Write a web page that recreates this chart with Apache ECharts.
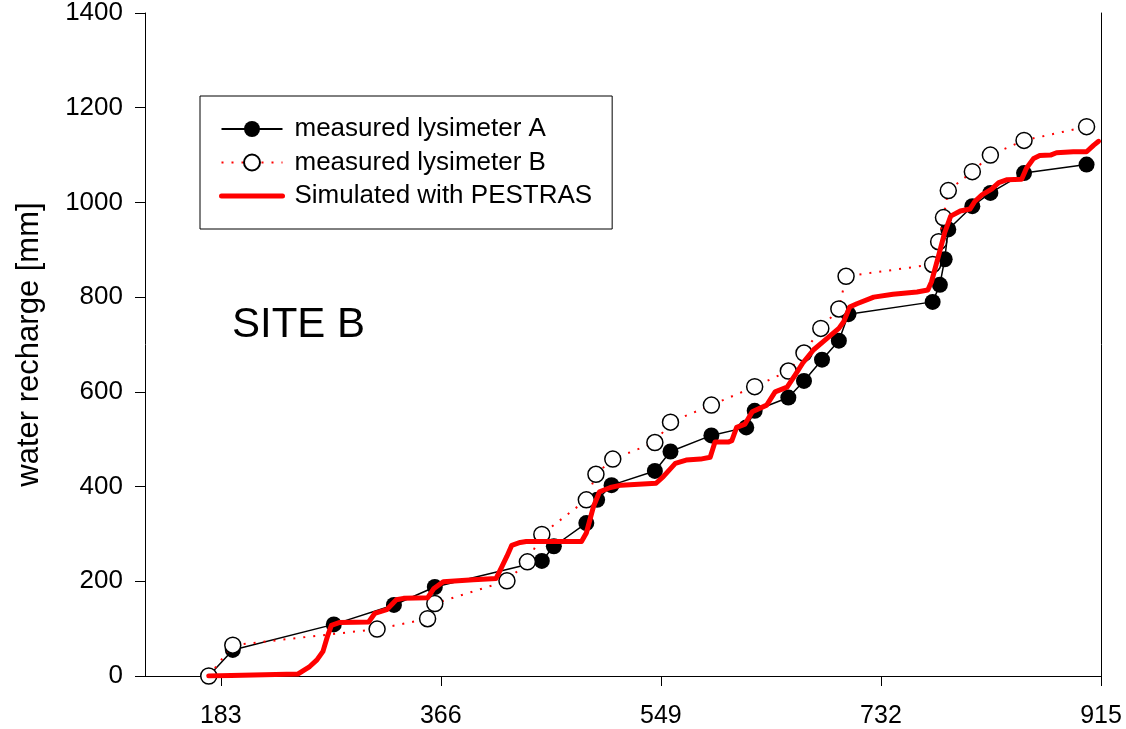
<!DOCTYPE html>
<html>
<head>
<meta charset="utf-8">
<script src="https://cdn.jsdelivr.net/npm/echarts@6/dist/echarts.min.js"></script>
<style>
html, body { margin: 0; padding: 0; background: #fff; }
#chart { width: 1126px; height: 729px; }
</style>
</head>
<body>
<div id="chart"></div>
<script>
// tick labels
const dayTicks = [183, 366, 549, 732, 915];

// measured lysimeter A (day, mm)
const lysADays = [173, 193, 277, 327, 361, 450, 460, 487, 496, 508, 544, 557, 591, 620, 627, 655, 668, 683, 697, 705, 775, 781, 785, 788, 808, 823, 851, 903];
const lysAVals = [0, 55, 109, 150, 188, 243, 274, 323, 372, 403, 433, 474, 508, 525, 560, 588, 623, 668, 708, 764, 790, 826, 880, 943, 992, 1020, 1062, 1080];

// measured lysimeter B
const lysBDays = [173, 193, 313, 355, 361, 421, 438, 450, 487, 495, 509, 544, 557, 591, 627, 655, 668, 682, 697, 703, 775, 780, 784, 788, 808, 823, 851, 903];
const lysBVals = [0, 65, 99, 121, 153, 201, 241, 299, 372, 426, 458, 493, 536, 572, 611, 644, 682, 734, 775, 844, 869, 917, 968, 1025, 1065, 1100, 1131, 1160];

// simulated with PESTRAS
const simDays = [173, 247, 257, 263, 268, 272, 275, 282, 306, 311, 321, 329, 335, 355, 360, 368, 393, 412, 417, 421, 425, 432, 437, 465, 483, 487, 493, 498, 507, 516, 545, 551, 561, 570, 582, 590, 594, 605, 608, 612, 619, 625, 637, 644, 654, 661, 667, 676, 684, 697, 701, 706, 712, 726, 742, 762, 771, 774, 780, 785, 790, 798, 806, 810, 816, 824, 830, 837, 849, 853, 859, 864, 873, 878, 892, 903, 909, 913];
const simVals = [0, 4, 20, 34, 52, 86, 107, 113, 114, 132, 140, 161, 164, 165, 184, 199, 203, 206, 232, 253, 276, 282, 284, 284, 284, 302, 358, 389, 398, 403, 407, 421, 449, 456, 458, 462, 494, 494, 497, 525, 532, 558, 572, 600, 610, 637, 661, 689, 706, 734, 748, 779, 786, 800, 806, 811, 815, 832, 888, 936, 971, 982, 986, 1002, 1016, 1028, 1042, 1048, 1049, 1072, 1093, 1099, 1100, 1105, 1107, 1107, 1121, 1129];

const zip = (xs, ys) => xs.map((x, i) => [x, ys[i]]);
const font = 'Liberation Sans, Arial, sans-serif';

const chart = echarts.init(document.getElementById('chart'));
chart.setOption({
    animation: false,
    backgroundColor: '#fff',
    title: {
        text: 'SITE B',
        left: 232,
        top: 304,
        padding: 0,
        textStyle: { fontFamily: font, fontSize: 42, fontWeight: 'normal', color: '#000' }
    },
    legend: {
        orient: 'vertical',
        left: 200,
        top: 96,
        itemWidth: 61,
        itemHeight: 20,
        itemGap: 7.5,
        padding: [20, 20, 20, 19],
        borderColor: '#000',
        borderWidth: 1,
        textStyle: { fontFamily: font, fontSize: 26, color: '#000', padding: [0, 0, 0, 7] },
        data: [
            'measured lysimeter A',
            'measured lysimeter B',
            {
                name: 'Simulated with PESTRAS',
                itemStyle: { color: 'rgba(0,0,0,0)', borderWidth: 0 },
                lineStyle: { color: '#ff0000', width: 5 }
            }
        ]
    },
    grid: { left: 145, right: 25, top: 8, bottom: 51 },
    xAxis: {
        type: 'value',
        min: 120,
        max: 915,
        splitLine: { show: false },
        axisLine: { lineStyle: { color: '#000', width: 1 } },
        axisTick: { customValues: dayTicks, length: 10, lineStyle: { color: '#000' } },
        axisLabel: { customValues: dayTicks, margin: 28, fontFamily: font, fontSize: 25, color: '#000' }
    },
    yAxis: [{
        type: 'value',
        min: 0,
        max: 1400,
        interval: 200,
        name: 'water recharge [mm]',
        nameLocation: 'middle',
        nameGap: 100,
        nameTextStyle: { fontFamily: font, fontSize: 31, color: '#000' },
        splitLine: { show: false },
        axisLine: { show: true, lineStyle: { color: '#000', width: 1 } },
        axisTick: { show: true, length: 10, lineStyle: { color: '#000' } },
        axisLabel: { margin: 22, fontFamily: font, fontSize: 26, color: '#000', formatter: v => String(v) }
    }, {
        type: 'value',
        position: 'right',
        min: 0,
        max: 1400,
        splitLine: { show: false },
        axisLine: { show: true, lineStyle: { color: '#000', width: 1 } },
        axisTick: { show: false },
        axisLabel: { show: false }
    }],
    series: [
        {
            name: 'measured lysimeter A',
            type: 'line',
            data: zip(lysADays, lysAVals),
            symbol: 'circle',
            symbolSize: 16,
            itemStyle: { color: '#000' },
            lineStyle: { color: '#000', width: 1.5 },
            z: 2
        },
        {
            name: 'measured lysimeter B',
            type: 'line',
            data: zip(lysBDays, lysBVals),
            symbol: 'circle',
            symbolSize: 16,
            itemStyle: { color: '#fff', borderColor: '#000', borderWidth: 1.5 },
            lineStyle: { color: '#ff0000', width: 2, type: [2, 8] },
            z: 3
        },
        {
            name: 'Simulated with PESTRAS',
            type: 'line',
            data: zip(simDays, simVals),
            showSymbol: false,
            symbol: 'none',
            itemStyle: { color: '#ff0000' },
            lineStyle: { color: '#ff0000', width: 5, cap: 'round', join: 'round' },
            z: 4
        }
    ]
});
</script>
</body>
</html>
